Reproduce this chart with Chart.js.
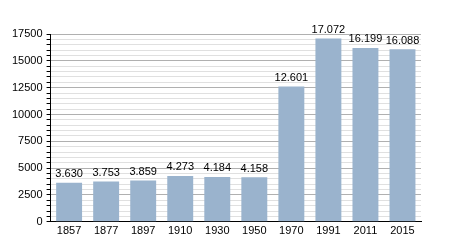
<!DOCTYPE html>
<html>
<head>
<meta charset="utf-8">
<script src="https://cdn.jsdelivr.net/npm/chart.js@4"></script>
<style>
html,body{margin:0;padding:0;background:#fff;}
#wrap{width:450px;height:250px;}
</style>
</head>
<body>
<div id="wrap"><canvas id="grafica" width="450" height="250"></canvas></div>
<script>
var anios = ["1857","1877","1897","1910","1930","1950","1970","1991","2011","2015"];
var poblacion = [3630, 3753, 3859, 4273, 4184, 4158, 12601, 17072, 16199, 16088];
var etiquetas = ["3.630","3.753","3.859","4.273","4.184","4.158","12.601","17.072","16.199","16.088"];

// etiquetas encima de cada barra
var etiquetasBarras = {
  id: 'etiquetasBarras',
  afterDatasetsDraw: function(chart){
    var ctx = chart.ctx;
    var meta = chart.getDatasetMeta(0);
    ctx.save();
    ctx.fillStyle = '#000';
    ctx.font = '11px "Liberation Sans", Arial, sans-serif';
    ctx.textAlign = 'center';
    ctx.textBaseline = 'bottom';
    meta.data.forEach(function(bar, i){
      ctx.fillText(etiquetas[i], bar.x, bar.y - 3);
    });
    ctx.restore();
  }
};

Chart.defaults.font.family = '"Liberation Sans", Arial, sans-serif';
Chart.defaults.font.size = 11;
Chart.defaults.color = '#000';

var ctx = document.getElementById("grafica").getContext("2d");
var miGrafica = new Chart(ctx, {
  type: "bar",
  data: {
    labels: anios,
    datasets: [{
      data: poblacion,
      backgroundColor: '#9ab3cd',
      borderWidth: 0,
      barPercentage: 0.7,
      categoryPercentage: 1
    }]
  },
  options: {
    responsive: false,
    animation: false,
    layout: { padding: { left: 8, right: 29, top: 34, bottom: 9 } },
    plugins: { legend: { display: false }, tooltip: { enabled: false } },
    scales: {
      x: {
        offset: true,
        grid: { display: false, drawTicks: false },
        border: { display: true, color: '#000', width: 1 },
        ticks: { padding: 3, maxRotation: 0, autoSkip: false }
      },
      y: {
        min: 0,
        max: 17500,
        border: { display: true, color: '#000', width: 1 },
        grid: {
          color: function(c){ return c.tick && c.tick.value % 2500 === 0 ? '#b0b0b0' : '#e0e0e0'; },
          tickColor: '#000',
          tickLength: 4
        },
        ticks: {
          stepSize: 500,
          autoSkip: false,
          padding: 4,
          callback: function(v){ return v % 2500 === 0 ? String(v) : ''; }
        }
      }
    }
  },
  plugins: [etiquetasBarras]
});
</script>
</body>
</html>
